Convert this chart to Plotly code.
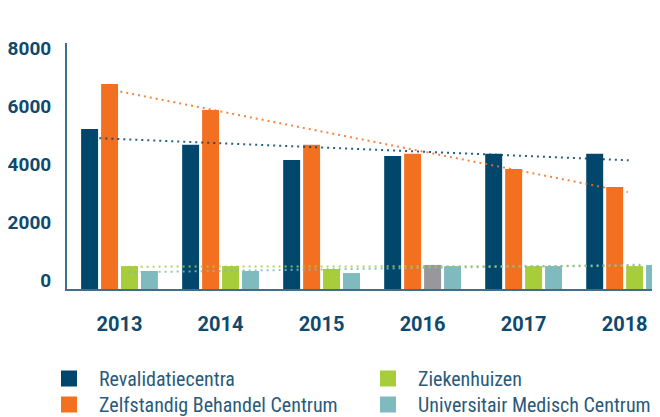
import numpy as np
import plotly.graph_objects as go

years = [2013, 2014, 2015, 2016, 2017, 2018]
year_labels = ["2013", "2014", "2015", "2016", "2017", "2018"]

revalidatie = [5520, 4970, 4450, 4590, 4660, 4660]
zbc = [7070, 6170, 4970, 4660, 4140, 3520]
ziekenhuizen = [790, 790, 690, 830, 790, 790]
umc = [620, 620, 550, 790, 790, 830]

series_names = ["Revalidatiecentra", "Zelfstandig Behandel Centrum",
                "Ziekenhuizen", "Universitair Medisch Centrum"]
series_values = [revalidatie, zbc, ziekenhuizen, umc]
series_colors = ["#00476b", "#f37021", "#a8cd3a", "#7fbabe"]
zk_colors = ["#a8cd3a", "#a8cd3a", "#a8cd3a", "#98989c", "#a8cd3a", "#a8cd3a"]

trend_start = [2012.8, 2012.95, 2013.09, 2013.09]
trend_end = [2018.04, 2018.03, 2018.19, 2018.19]

fig = go.Figure()
for i, (name, vals, col) in enumerate(zip(series_names, series_values, series_colors)):
    mc = zk_colors if i == 2 else col
    fig.add_trace(go.Bar(x=years, y=vals, name=name, marker=dict(color=mc, line=dict(width=0)),
                         showlegend=False))

for i, (vals, col) in enumerate(zip(series_values, series_colors)):
    slope, intercept = np.polyfit(years, vals, 1)
    xs = np.array([trend_start[i], trend_end[i]])
    ys = slope * xs + intercept
    fig.add_trace(go.Scatter(x=xs, y=ys, mode="lines", showlegend=False,
                             line=dict(color=col, width=2, dash="2px,4px"),
                             opacity=0.85, hoverinfo="skip"))

# page offset (body margin) compensation
OFF = 8
L, T, PW, PH = 67 - OFF, 43 - OFF, 593, 246
W, H = 660, 417

TXT = "#0f4a6e"
fig.update_layout(
    width=W, height=H,
    margin=dict(l=L, r=W - L - PW, t=T, b=H - T - PH),
    paper_bgcolor="white", plot_bgcolor="white",
    barmode="group", bargap=0.21, bargroupgap=0.15,
    showlegend=False,
    font=dict(family="Roboto, Arial, sans-serif", color=TXT),
)
fig.update_xaxes(range=[2012.48, 2018.35], tickvals=years, ticktext=year_labels,
                 automargin=False,
                 showgrid=False, zeroline=False, showline=True, linecolor="#3f6e8a",
                 linewidth=2, ticks="", ticklabelstandoff=16,
                 tickfont=dict(family="Roboto", size=20, color=TXT, weight="bold"))
fig.update_yaxes(range=[0, 8483], tickvals=[0, 2000, 4000, 6000, 8000],
                 automargin=False,
                 showgrid=False, zeroline=False, showline=True, linecolor="#3f6e8a",
                 linewidth=2, ticks="", ticklabelshift=-9, ticklabelstandoff=10,
                 tickfont=dict(family="Roboto", size=19, color=TXT, weight="bold"))


def px_x(x):
    return (x - OFF - L) / PW


def px_y(y):
    return (T + PH - (y - OFF)) / PH


# manual legend
legend_font = dict(family="Liberation Sans Narrow, Roboto Condensed, DejaVu Sans Condensed, Roboto",
                   size=20, color="#2a5a7a")
leg_pos = [(61, 378.5), (61, 404.5), (380, 378.5), (380, 404.5)]
for (lx, ly), name, col in zip(leg_pos, series_names, series_colors):
    fig.add_shape(type="rect", xref="paper", yref="paper",
                  x0=px_x(lx), x1=px_x(lx + 16),
                  y0=px_y(ly + 8), y1=px_y(ly - 8),
                  fillcolor=col, line=dict(width=0))
    fig.add_annotation(xref="paper", yref="paper", x=px_x(lx + 36), y=px_y(ly),
                       text=name, showarrow=False, xanchor="left", yanchor="middle",
                       font=legend_font)

fig.write_html("out.html")
